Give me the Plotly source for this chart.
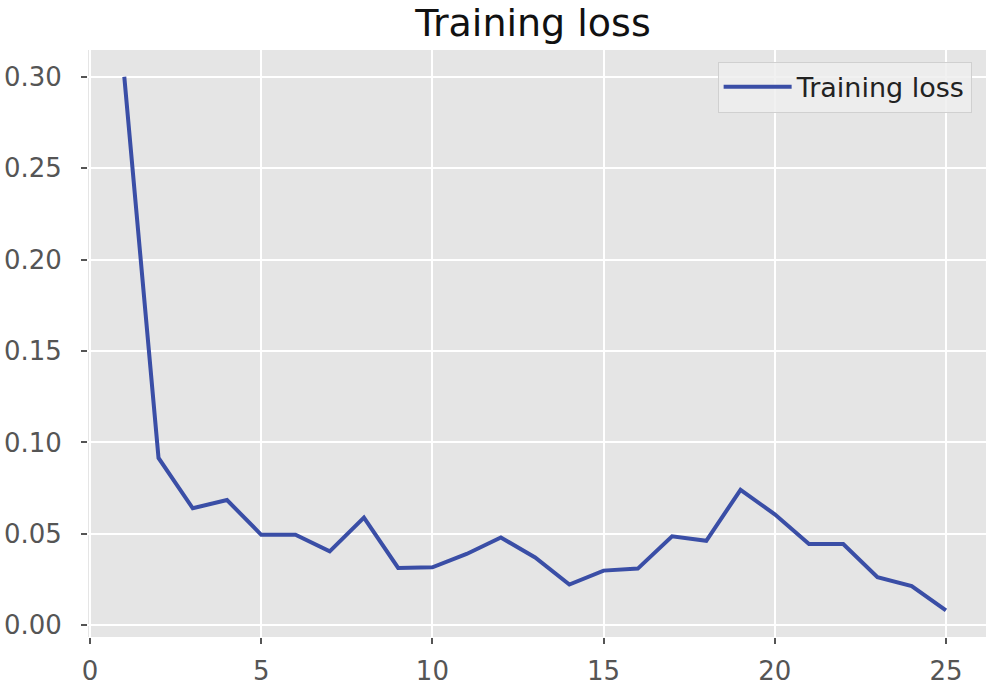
"""Training loss curve, ggplot-like look."""

import plotly.graph_objects as go

epochs = list(range(1, 26))
train_loss = [
    0.300, 0.0915, 0.0640, 0.0685, 0.0495, 0.0495, 0.0404, 0.0589, 0.0314,
    0.0317, 0.0390, 0.0480, 0.0371, 0.0223, 0.0299, 0.0310, 0.0487, 0.0462,
    0.0741, 0.0607, 0.0444, 0.0444, 0.0263, 0.0214, 0.0082,
]
x_ticks = [0, 5, 10, 15, 20, 25]
y_ticks = [0.00, 0.05, 0.10, 0.15, 0.20, 0.25, 0.30]

FONT = "DejaVu Sans"
BG = "#e5e5e5"
W, H = 991, 686

fig = go.Figure()
fig.add_trace(
    go.Scatter(
        x=epochs,
        y=train_loss,
        mode="lines",
        line=dict(color="#3a4ea6", width=4),
        name="Training loss",
    )
)

axis_common = dict(
    automargin=False,
    showgrid=True,
    gridcolor="white",
    gridwidth=2,
    zeroline=False,
    showline=False,
    ticks="outside",
    ticklen=6,
    tickwidth=2,
    tickcolor="#555555",
    tickfont=dict(family=FONT, size=26, color="#555555"),
)

fig.update_layout(
    width=W,
    height=H,
    margin=dict(l=88, r=5, t=50, b=49),
    paper_bgcolor="white",
    plot_bgcolor=BG,
    title=dict(
        text="Training loss",
        x=533 / W,
        xanchor="center",
        y=1 - 23 / H,
        yanchor="middle",
        font=dict(family=FONT, size=38, color="#111111"),
    ),
    xaxis=dict(
        range=[-0.06, 26.17],
        tickvals=x_ticks,
        ticklabelstandoff=5,
        **axis_common,
    ),
    yaxis=dict(
        range=[-0.0064, 0.3146],
        tickvals=y_ticks,
        tickformat=".2f",
        ticklabelstandoff=14,
        **axis_common,
    ),
    showlegend=True,
    legend=dict(
        x=0.984,
        y=0.98,
        xanchor="right",
        yanchor="top",
        itemwidth=68,
        bgcolor="rgba(238,238,238,0.85)",
        bordercolor="#d0d0d0",
        borderwidth=1,
        font=dict(family=FONT, size=27, color="#222222"),
    ),
)

# drop the default 8px body margin so the figure fills the window exactly
fig.write_html(
    "out.html",
    config={"displayModeBar": False},
    post_script="document.body.style.margin = '0';",
)
